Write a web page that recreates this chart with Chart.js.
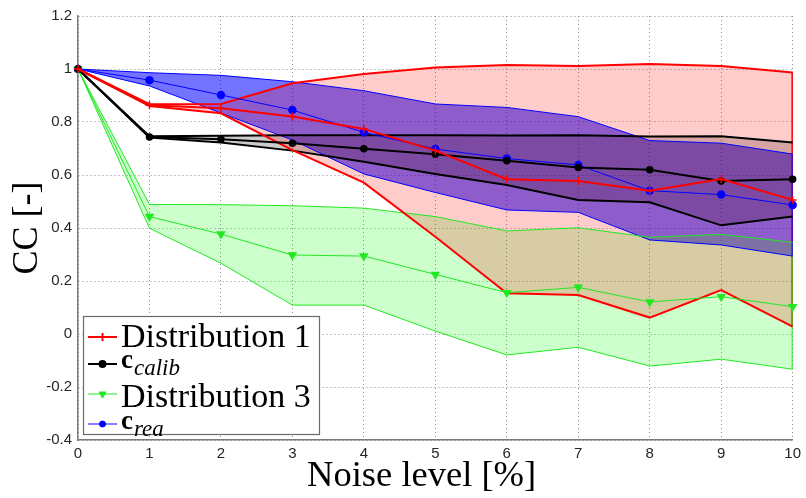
<!DOCTYPE html>
<html>
<head>
<meta charset="utf-8">
<script src="https://cdn.jsdelivr.net/npm/chart.js@4/dist/chart.umd.min.js"></script>
<style>
  body { margin: 0; background: #fff; }
  #wrap { width: 806px; height: 498px; }
</style>
</head>
<body>
<div id="wrap"><canvas id="chart"></canvas></div>
<script>
// noise levels on the x axis
const noise = [0, 1, 2, 3, 4, 5, 6, 7, 8, 9, 10];

// Distribution 1 (red)
const d1Mean  = [1, 0.863, 0.852, 0.821, 0.774, 0.692, 0.584, 0.577, 0.541, 0.585, 0.506];
const d1Upper = [1, 0.867, 0.868, 0.946, 0.981, 1.006, 1.015, 1.011, 1.019, 1.011, 0.987];
const d1Lower = [1, 0.860, 0.833, 0.694, 0.571, 0.367, 0.154, 0.147, 0.062, 0.166, 0.028];

// c_calib (black)
const calibMean  = [1, 0.743, 0.735, 0.720, 0.699, 0.678, 0.654, 0.628, 0.620, 0.577, 0.584];
const calibUpper = [1, 0.746, 0.748, 0.750, 0.750, 0.750, 0.749, 0.750, 0.745, 0.746, 0.723];
const calibLower = [1, 0.741, 0.723, 0.692, 0.650, 0.604, 0.562, 0.506, 0.497, 0.410, 0.443];

// Distribution 3 (green)
const d3Mean  = [1, 0.443, 0.377, 0.298, 0.294, 0.225, 0.156, 0.176, 0.121, 0.141, 0.103];
const d3Upper = [1, 0.489, 0.488, 0.484, 0.475, 0.443, 0.389, 0.401, 0.365, 0.376, 0.346];
const d3Lower = [1, 0.399, 0.267, 0.109, 0.109, 0.011, -0.079, -0.050, -0.121, -0.095, -0.133];

// c_rea (blue)
const reaMean  = [1, 0.958, 0.902, 0.845, 0.761, 0.698, 0.662, 0.638, 0.541, 0.526, 0.487];
const reaUpper = [1, 0.986, 0.976, 0.952, 0.918, 0.868, 0.855, 0.820, 0.730, 0.720, 0.679];
const reaLower = [1, 0.936, 0.834, 0.732, 0.604, 0.534, 0.468, 0.459, 0.355, 0.336, 0.294];

const RED = '#ff0000', BLACK = '#000000', GREEN = '#22e822', BLUE = '#0000ff';
const SERIF = '"Liberation Serif", "Times New Roman", Times, serif';

function meanSet(data, color, style, radius, width, extra) {
  return Object.assign({
    data, borderColor: color, backgroundColor: color, borderWidth: width,
    pointStyle: style, pointRadius: radius, pointBorderColor: color,
    pointBackgroundColor: color, pointBorderWidth: 1.5, fill: false, tension: 0
  }, extra || {});
}
function edgeSet(data, color, width, fillColor) {
  return {
    data, borderColor: color, borderWidth: width, pointRadius: 0,
    fill: fillColor ? '+1' : false, backgroundColor: fillColor || 'transparent', tension: 0
  };
}

// legend entries (drawn by hand because of the bold/subscript labels)
const legendItems = [
  { text: 'Distribution 1', color: RED, style: 'cross', r: 4, w: 2 },
  { text: 'c', sub: 'calib', color: BLACK, style: 'circle', r: 3, w: 2 },
  { text: 'Distribution 3', color: GREEN, style: 'triangle', r: 4, w: 1, rot: 180 },
  { text: 'c', sub: 'rea', color: BLUE, style: 'circle', r: 3, w: 1 }
];

// closing edge of each band patch at the last noise level (like matlab's patch outline)
const bandEdges = [
  { upper: d1Upper, lower: d1Lower, color: RED, w: 1.5 },
  { upper: d3Upper, lower: d3Lower, color: GREEN, w: 1 },
  { upper: reaUpper, lower: reaLower, color: BLUE, w: 1 }
];

const patchEdgePlugin = {
  id: 'patchEdge',
  beforeDatasetsDraw(chart) {
    const ctx = chart.ctx, xs = chart.scales.x, ys = chart.scales.y;
    const last = noise.length - 1;
    const px = xs.getPixelForValue(last) - 0.5;
    ctx.save();
    bandEdges.forEach(b => {
      ctx.strokeStyle = b.color;
      ctx.lineWidth = b.w;
      ctx.beginPath();
      ctx.moveTo(px, ys.getPixelForValue(b.upper[last]));
      ctx.lineTo(px, ys.getPixelForValue(b.lower[last]));
      ctx.stroke();
    });
    ctx.restore();
  }
};

const legendPlugin = {
  id: 'matlabLegend',
  afterDraw(chart) {
    const ctx = chart.ctx, a = chart.chartArea;
    const left = a.left + 5, top = a.bottom - 124, right = a.left + 241, bottom = a.bottom - 6;
    ctx.save();
    ctx.fillStyle = '#fff';
    ctx.fillRect(left, top, right - left, bottom - top);
    ctx.strokeStyle = '#6a6a6a';
    ctx.lineWidth = 1.2;
    ctx.strokeRect(left + 0.5, top + 0.5, right - left, bottom - top);
    const rowY = [21, 48, 78, 108];
    const baseY = [31, 52, 91, 113];
    legendItems.forEach((it, i) => {
      const y = top + rowY[i];
      ctx.strokeStyle = it.color;
      ctx.lineWidth = it.w;
      ctx.beginPath();
      ctx.moveTo(left + 5, y);
      ctx.lineTo(left + 34, y);
      ctx.stroke();
      ctx.fillStyle = it.color;
      Chart.helpers.drawPoint(ctx, { pointStyle: it.style, radius: it.r, rotation: it.rot || 0, borderWidth: 1.5 }, left + 19.5, y);
      ctx.fillStyle = '#000';
      ctx.textBaseline = 'alphabetic';
      ctx.textAlign = 'left';
      if (!it.sub) {
        ctx.font = '34px ' + SERIF;
        ctx.fillText(it.text, left + 38, top + baseY[i]);
      } else {
        ctx.font = 'bold 27px ' + SERIF;
        ctx.fillText(it.text, left + 38, top + baseY[i]);
        const cw = ctx.measureText(it.text).width;
        ctx.font = 'italic 23px ' + SERIF;
        ctx.fillText(it.sub, left + 39 + cw, top + baseY[i] + 7);
      }
    });
    ctx.restore();
  }
};

const gridStyle = { color: '#8a8a8a', lineWidth: 1, drawTicks: false };
const borderStyle = { display: true, color: '#7a7a7a', width: 1.5, dash: [1, 3] };
const tickFont = { family: '"Liberation Sans", Arial, sans-serif', size: 15 };

new Chart(document.getElementById('chart'), {
  type: 'line',
  data: {
    labels: noise,
    datasets: [
      meanSet(d1Mean, RED, 'cross', 4, 2),
      meanSet(calibMean, BLACK, 'circle', 3, 2),
      meanSet(d3Mean, GREEN, 'triangle', 4, 1, { pointRotation: 180 }),
      meanSet(reaMean, BLUE, 'circle', 3.5, 1),
      edgeSet(d1Upper, RED, 2, 'rgba(255,0,0,0.2)'),
      edgeSet(d1Lower, RED, 2),
      edgeSet(calibUpper, BLACK, 2, 'rgba(0,0,0,0.2)'),
      edgeSet(calibLower, BLACK, 2),
      edgeSet(d3Upper, GREEN, 1, 'rgba(0,255,0,0.2)'),
      edgeSet(d3Lower, GREEN, 1),
      edgeSet(reaUpper, BLUE, 1, 'rgba(0,0,255,0.55)'),
      edgeSet(reaLower, BLUE, 1)
    ]
  },
  options: {
    responsive: true,
    maintainAspectRatio: false,
    animation: false,
    layout: { padding: { top: 16, right: 8, left: 0, bottom: 0 } },
    plugins: {
      legend: { display: false },
      tooltip: { enabled: false },
      filler: { drawTime: 'beforeDatasetsDraw' }
    },
    scales: {
      x: {
        grid: gridStyle,
        border: borderStyle,
        ticks: { font: tickFont, color: '#262626', padding: 5, maxRotation: 0 },
        title: { display: true, text: 'Noise level [%]\u00a0\u00a0\u00a0', color: '#000',
                 font: { family: SERIF, size: 36.5 }, padding: { top: 0, bottom: 0 } },
        afterFit: s => { s.height = 58; }
      },
      y: {
        min: -0.4, max: 1.2,
        grid: gridStyle,
        border: borderStyle,
        ticks: { font: tickFont, color: '#262626', padding: 6, stepSize: 0.2,
                 callback: v => String(+v.toFixed(1)) },
        title: { display: true, text: 'CC [-]', color: '#000',
                 font: { family: SERIF, size: 36 }, padding: { top: 6, bottom: 0 } },
        afterFit: s => { s.width = 78; }
      }
    }
  },
  plugins: [patchEdgePlugin, legendPlugin]
});
</script>
</body>
</html>
